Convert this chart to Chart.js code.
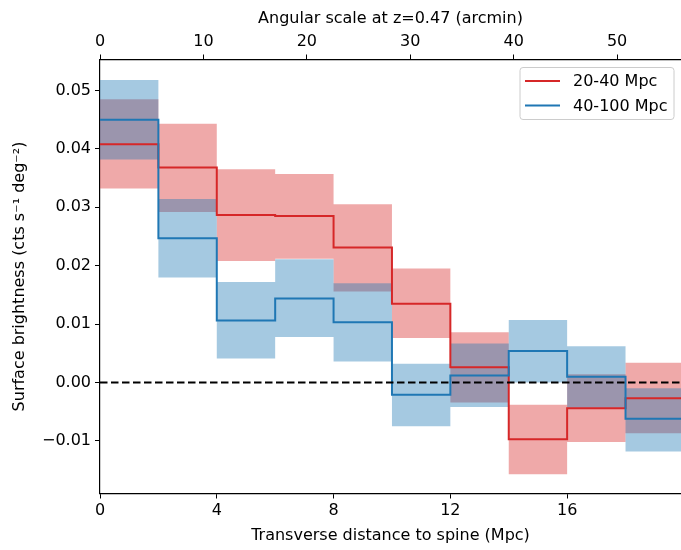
<!DOCTYPE html>
<html>
<head>
<meta charset="utf-8">
<script src="https://cdn.jsdelivr.net/npm/chart.js@4/dist/chart.umd.min.js"></script>
<style>
  html, body { margin: 0; padding: 0; background: #fff; }
  #wrap { width: 681px; height: 550px; }
</style>
</head>
<body>
<div id="wrap"><canvas id="sbChart" width="681" height="550"></canvas></div>
<script>
// bin edges in Mpc (10 bins of 2 Mpc)
var binEdges = [0, 2, 4, 6, 8, 10, 12, 14, 16, 18, 20];

// 20-40 Mpc sample
var redMid   = [0.0408, 0.0368, 0.0287, 0.0285, 0.0231, 0.0135, 0.0026, -0.0097, -0.0044, -0.0027];
var redHigh  = [0.0485, 0.0443, 0.0365, 0.0357, 0.0305, 0.0195, 0.0086, -0.0038, 0.0014, 0.0034];
var redLow   = [0.0332, 0.0292, 0.0208, 0.0212, 0.0156, 0.0076, -0.0034, -0.0157, -0.0102, -0.0087];

// 40-100 Mpc sample
var blueMid  = [0.0450, 0.0247, 0.0106, 0.0144, 0.0103, -0.0021, 0.0012, 0.0054, 0.0010, -0.0062];
var blueHigh = [0.0518, 0.0314, 0.0172, 0.0211, 0.0170, 0.0032, 0.0067, 0.0107, 0.0062, -0.0010];
var blueLow  = [0.0382, 0.0180, 0.0041, 0.0078, 0.0036, -0.0075, -0.0042, 0.0000, -0.0043, -0.0118];

var xTicksStep = 4;
var yTicksStep = 0.01;
var arcminTicksStep = 10;
var arcminPerMpc = 2.823;   // angular scale at z=0.47
var xMax = 19.9, yMin = -0.0190, yMax = 0.0553;

var RED = '#d62728', BLUE = '#1f77b4';
var RED_BAND = 'rgba(214,39,40,0.4)', BLUE_BAND = 'rgba(31,119,180,0.4)';

// step data: repeat last value at the right edge
function steps(vals) {
    var pts = [];
    for (var i = 0; i < binEdges.length; i++) {
        pts.push({x: binEdges[i], y: vals[Math.min(i, vals.length - 1)]});
    }
    return pts;
}

function lineDs(label, vals, color, order) {
    return {label: label, data: steps(vals), stepped: 'before', borderColor: color,
            borderWidth: 2, pointRadius: 0, fill: false, order: order};
}

var datasets = [
    // 0,1 : red band
    {data: steps(redLow), stepped: 'before', borderWidth: 0, pointRadius: 0, fill: false, order: 6},
    {data: steps(redHigh), stepped: 'before', borderWidth: 0, pointRadius: 0,
     fill: {target: 0}, backgroundColor: RED_BAND, order: 5},
    // 2,3 : blue band
    {data: steps(blueLow), stepped: 'before', borderWidth: 0, pointRadius: 0, fill: false, order: 4},
    {data: steps(blueHigh), stepped: 'before', borderWidth: 0, pointRadius: 0,
     fill: {target: 2}, backgroundColor: BLUE_BAND, order: 3},
    lineDs('20-40 Mpc', redMid, RED, 2),
    lineDs('40-100 Mpc', blueMid, BLUE, 1),
    {data: [{x: 0, y: 0}, {x: 20, y: 0}], borderColor: '#000', borderWidth: 2,
     borderDash: [7.5, 3.5], pointRadius: 0, fill: false, order: 0}
];

var FONT = {family: 'DejaVu Sans', size: 16};

var legendBox = {
    id: 'legendBox',
    afterDraw: function(chart) {
        var ctx = chart.ctx;
        var items = [['20-40 Mpc', RED], ['40-100 Mpc', BLUE]];
        var x0 = 520, y0 = 67.5, w = 154, h = 52;
        ctx.save();
        ctx.beginPath();
        if (ctx.roundRect) ctx.roundRect(x0, y0, w, h, 3); else ctx.rect(x0, y0, w, h);
        ctx.fillStyle = 'rgba(255,255,255,0.8)';
        ctx.fill();
        ctx.strokeStyle = '#cccccc';
        ctx.lineWidth = 1;
        ctx.stroke();
        ctx.font = '16px "DejaVu Sans"';
        ctx.textBaseline = 'middle';
        ctx.fillStyle = '#000';
        for (var i = 0; i < items.length; i++) {
            var yy = y0 + 13.5 + i * 24.5;
            ctx.beginPath();
            ctx.moveTo(x0 + 5, yy);
            ctx.lineTo(x0 + 40, yy);
            ctx.strokeStyle = items[i][1];
            ctx.lineWidth = 2;
            ctx.stroke();
            ctx.fillText(items[i][0], x0 + 53, yy + 1);
        }
        ctx.restore();
    }
};

var axisGrid = {display: true, drawOnChartArea: false, drawTicks: true, tickLength: 5,
                tickColor: '#000', tickWidth: 1};
var axisBorder = {display: true, color: '#000', width: 1.2};

new Chart(document.getElementById('sbChart'), {
    type: 'line',
    data: {datasets: datasets},
    plugins: [legendBox],
    options: {
        responsive: false,
        animation: false,
        layout: {padding: 0},
        plugins: {legend: {display: false}, tooltip: {enabled: false}},
        scales: {
            x: {
                type: 'linear', position: 'bottom', min: 0, max: xMax,
                grid: axisGrid, border: axisBorder,
                ticks: {stepSize: xTicksStep, includeBounds: false, color: '#000', font: FONT,
                        padding: 3, maxRotation: 0},
                title: {display: true, text: 'Transverse distance to spine (Mpc)', color: '#000',
                        font: FONT, padding: {top: 0, bottom: 5}},
                afterFit: function(s) { s.height = 56.5; }
            },
            x2: {
                type: 'linear', position: 'top', min: 0, max: xMax * arcminPerMpc,
                grid: axisGrid, border: axisBorder,
                ticks: {stepSize: arcminTicksStep, includeBounds: false, color: '#000', font: FONT,
                        padding: 3, maxRotation: 0},
                title: {display: true, text: 'Angular scale at z=0.47 (arcmin)', color: '#000',
                        font: FONT, padding: {top: 9, bottom: 0}},
                afterFit: function(s) { s.height = 59.5; }
            },
            y: {
                type: 'linear', position: 'left', min: yMin, max: yMax,
                grid: axisGrid, border: axisBorder,
                ticks: {stepSize: yTicksStep, includeBounds: false, color: '#000', font: FONT,
                        padding: 4,
                        callback: function(v) {
                            var s = Math.abs(v).toFixed(2);
                            return (v < -1e-9 ? '\u2212' : '') + s;
                        }},
                title: {display: true, text: 'Surface brightness (cts s\u207B\u00B9 deg\u207B\u00B2)',
                        color: '#000', font: FONT, padding: {top: 10, bottom: 0}},
                afterFit: function(s) { s.width = 100; }
            }
        }
    }
});
</script>
</body>
</html>
